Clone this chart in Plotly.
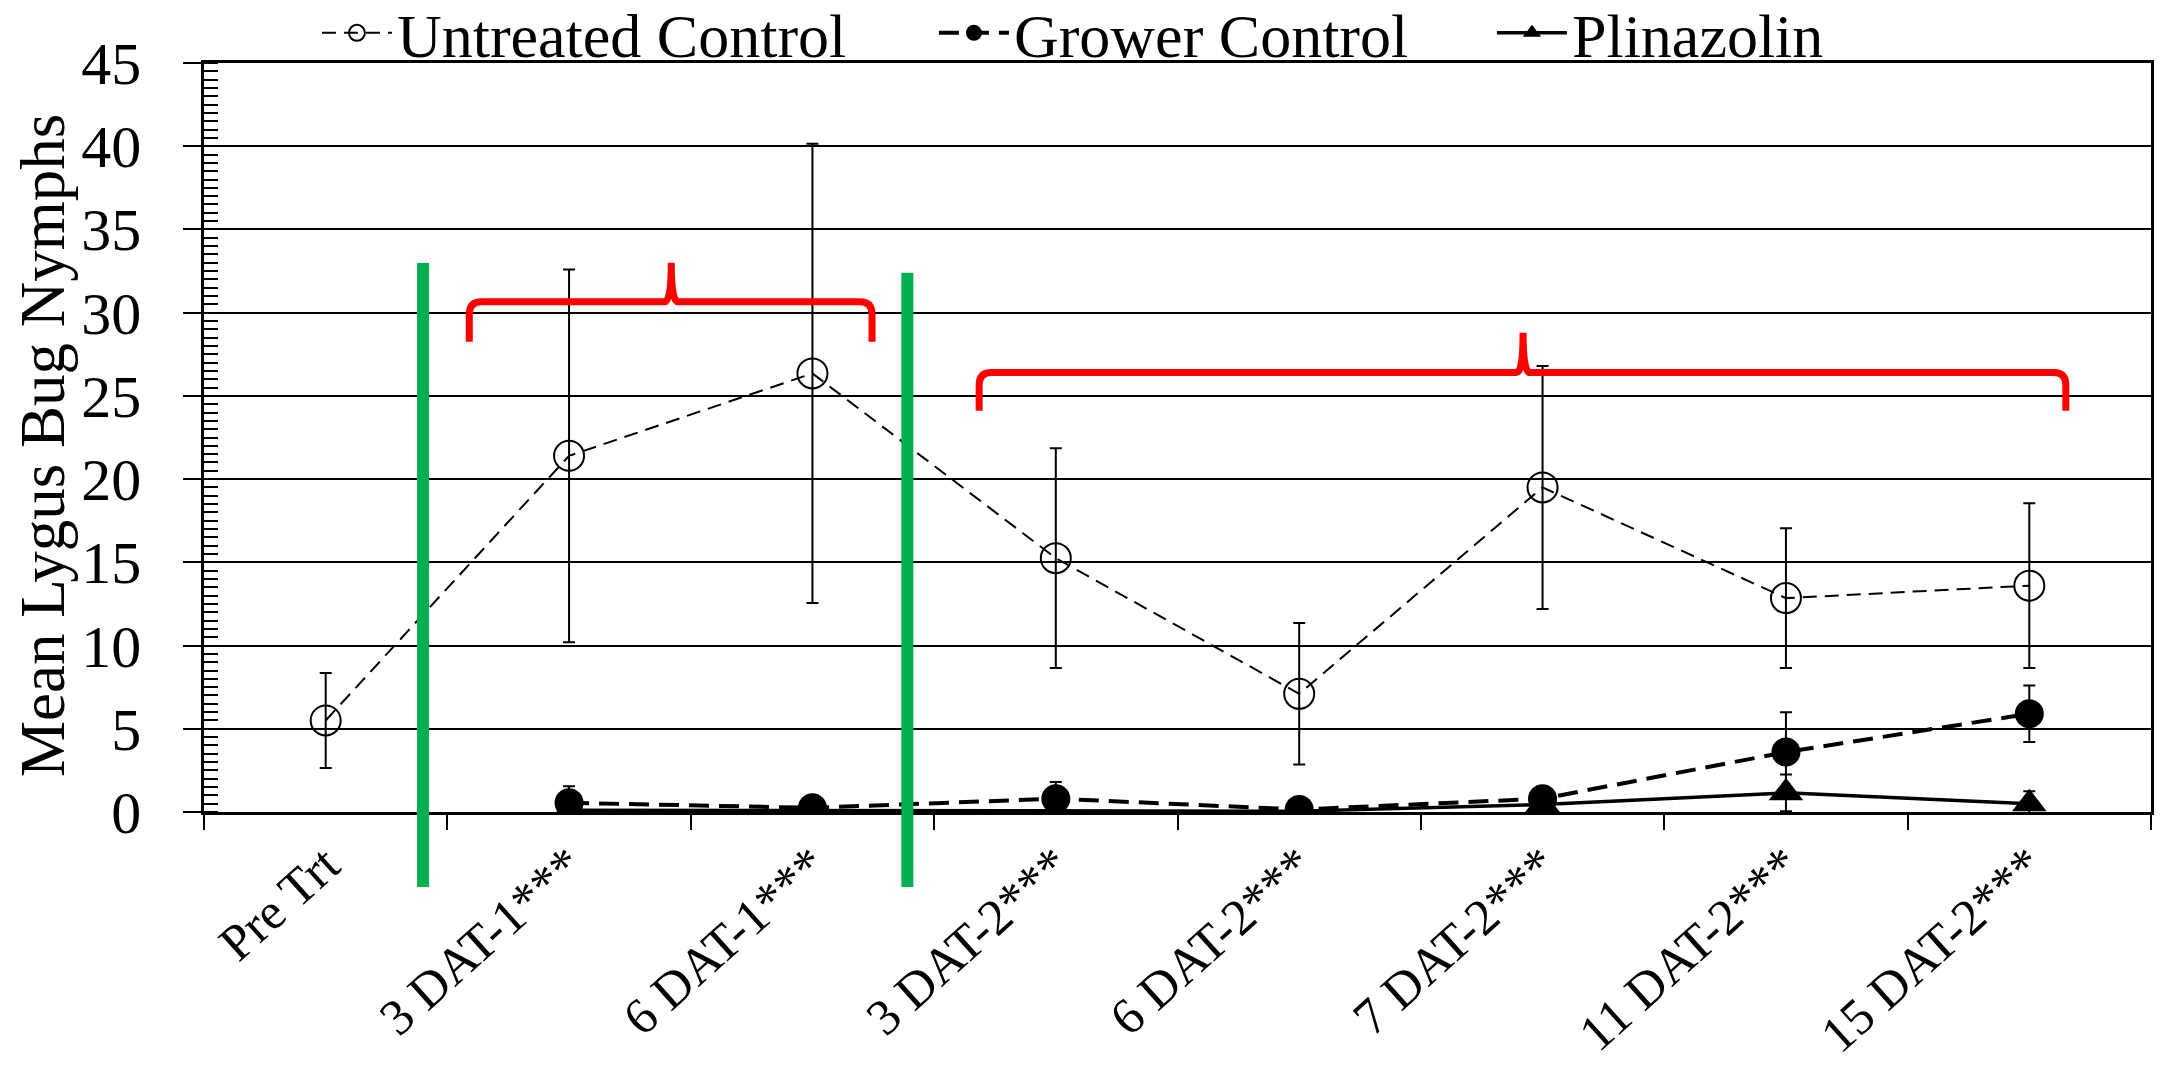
import plotly.graph_objects as go

# ---------------- data ----------------
categories = ["Pre Trt", "3 DAT-1***", "6 DAT-1***", "3 DAT-2***",
              "6 DAT-2***", "7 DAT-2***", "11 DAT-2***", "15 DAT-2***"]

untreated = [5.5, 21.4, 26.35, 15.25, 7.1, 19.5, 12.85, 13.6]
untreated_err = [2.85, 11.2, 13.8, 6.6, 4.25, 7.3, 4.2, 4.95]

grower = [None, 0.55, 0.25, 0.8, 0.15, 0.8, 3.6, 5.9]
grower_err = [0, 1.0, 0.1, 1.0, 0.1, 0.3, 2.4, 1.7]

plinazolin = [None, 0.1, 0.1, 0.1, 0.05, 0.45, 1.15, 0.5]
plinazolin_err = [0, 0, 0, 0, 0, 0.2, 1.1, 0.75]

y_title = "Mean Lygus Bug Nymphs"

FONT = "Liberation Serif, Times New Roman, serif"

fig = go.Figure()

err_style = dict(type="data", visible=True, color="black", thickness=2, width=6)

fig.add_trace(go.Scatter(
    x=categories, y=untreated, name="Untreated Control",
    mode="lines+markers",
    line=dict(color="black", width=2, dash="14px,8px"),
    marker=dict(symbol="circle-open", size=30, color="black", line=dict(width=2, color="black")),
    error_y=dict(array=untreated_err, **err_style),
    legendwidth=532,
))
fig.add_trace(go.Scatter(
    x=categories, y=grower, name="Grower Control",
    mode="lines+markers",
    line=dict(color="black", width=4, dash="20px,10px"),
    marker=dict(symbol="circle", size=29, color="black"),
    error_y=dict(array=grower_err, **err_style),
    legendwidth=473,
))
fig.add_trace(go.Scatter(
    x=categories, y=plinazolin, name="Plinazolin",
    mode="lines+markers",
    line=dict(color="black", width=3.5),
    marker=dict(symbol="triangle-up", size=30, color="black"),
    error_y=dict(array=plinazolin_err, **err_style),
))

# ---------------- annotation shapes ----------------
GREEN = "#00B050"
RED = "#FF0000"

def brace_path(xl, xr, xp, yb, yh, ypk, rx=0.05, ry=0.75, px=0.028):
    return (f"M{xl},{yb} L{xl},{yh-ry} Q{xl},{yh} {xl+rx},{yh} "
            f"L{xp-px},{yh} Q{xp},{yh} {xp},{ypk} Q{xp},{yh} {xp+px},{yh} "
            f"L{xr-rx},{yh} Q{xr},{yh} {xr},{yh-ry} L{xr},{yb}")

shapes = [
    dict(type="line", xref="x", yref="paper", x0=0.40, x1=0.40, y0=-0.100, y1=0.733,
         line=dict(color=GREEN, width=12), layer="above"),
    dict(type="line", xref="x", yref="paper", x0=2.39, x1=2.39, y0=-0.100, y1=0.720,
         line=dict(color=GREEN, width=12), layer="above"),
    dict(type="path", xref="x", yref="y",
         path=brace_path(0.59, 2.245, 1.42, 28.25, 30.65, 33.0),
         line=dict(color=RED, width=7), layer="above"),
    dict(type="path", xref="x", yref="y",
         path=brace_path(2.685, 7.15, 4.92, 24.1, 26.4, 28.8),
         line=dict(color=RED, width=7), layer="above"),
]

fig.update_layout(
    width=2162, height=1073,
    margin=dict(l=204, r=11, t=63, b=261, autoexpand=False),
    paper_bgcolor="white", plot_bgcolor="white",
    font=dict(family=FONT, size=60, color="black"),
    showlegend=True,
    legend=dict(orientation="h", x=0.058, xanchor="left", y=1.04, yanchor="middle",
                font=dict(family=FONT, size=62, color="black"),
                bgcolor="rgba(0,0,0,0)", itemwidth=70, tracegroupgap=0),
    shapes=shapes,
    annotations=[dict(text=y_title, xref="paper", yref="paper",
                      x=-0.0827, y=0.49, xanchor="center", yanchor="middle",
                      textangle=-90, showarrow=False,
                      font=dict(family=FONT, size=63, color="black"))],
)

fig.update_xaxes(
    type="category", range=[-0.5, 7.5], tickson="boundaries",
    ticks="outside", ticklen=15, tickwidth=2, tickcolor="black",
    showline=True, linecolor="black", linewidth=2.5, mirror=True,
    showgrid=False, zeroline=False, tickangle=-42, automargin=False,
    tickfont=dict(family=FONT, size=51, color="black"),
)
fig.update_yaxes(
    range=[0, 45], dtick=5, tick0=0,
    ticks="outside", ticklen=18, tickwidth=2, tickcolor="black",
    showline=True, linecolor="black", linewidth=2.5, mirror=True,
    showgrid=True, gridcolor="black", gridwidth=2,
    zeroline=False, automargin=False, ticklabelstandoff=30,
    tickfont=dict(family=FONT, size=60, color="black"),
    minor=dict(dtick=0.5, ticks="inside", ticklen=14, tickwidth=1.5,
               tickcolor="black", showgrid=False),
)

fig.write_html("out.html")
